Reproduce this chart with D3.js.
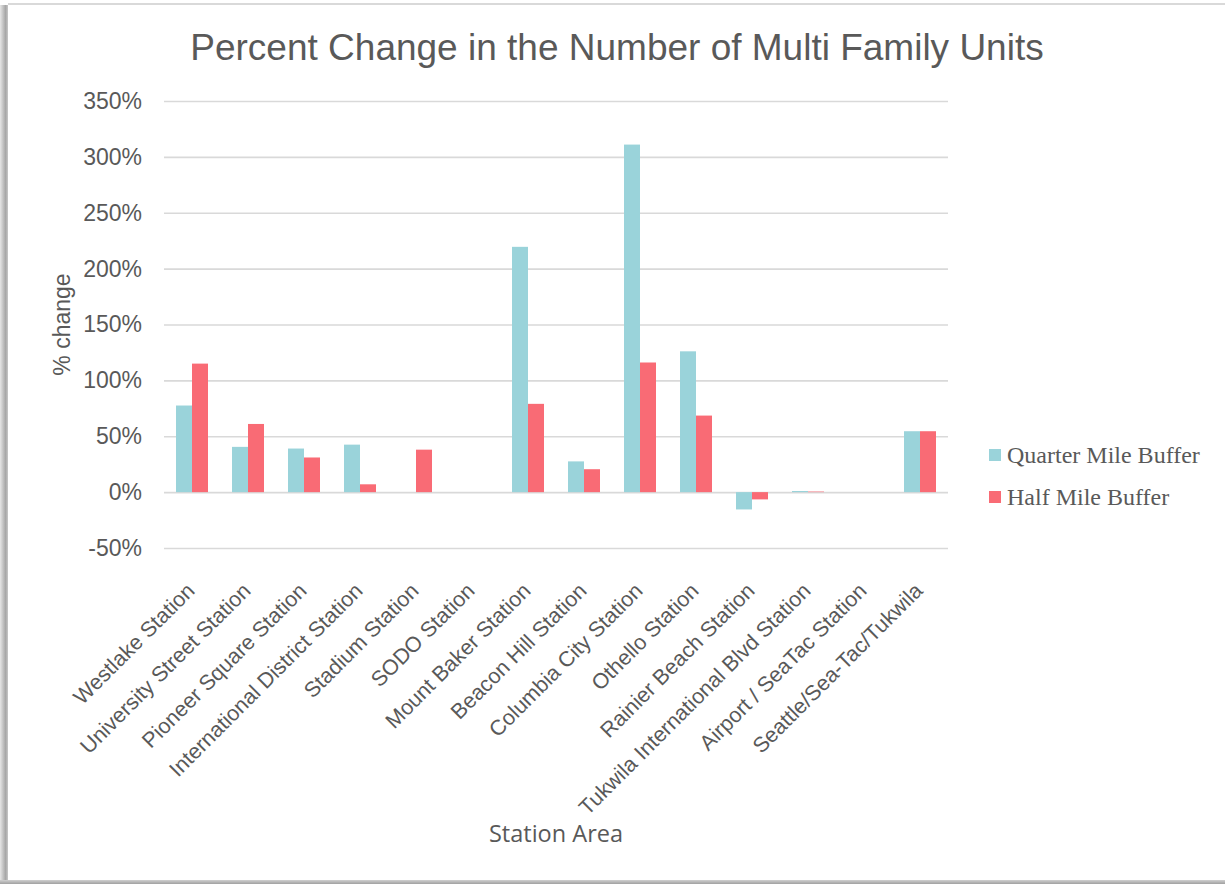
<!DOCTYPE html>
<html>
<head>
<meta charset="utf-8">
<script src="https://cdn.jsdelivr.net/npm/d3@7"></script>
<style>
  html, body { margin: 0; padding: 0; background: #ffffff; }
  svg { display: block; }
</style>
</head>
<body>
<svg id="chart" width="1225" height="884"></svg>
<script>
// Station areas along the line, in order
const stations = [
  "Westlake Station", "University Street Station", "Pioneer Square Station",
  "International District Station", "Stadium Station", "SODO Station",
  "Mount Baker Station", "Beacon Hill Station", "Columbia City Station",
  "Othello Station", "Rainier Beach Station", "Tukwila International Blvd Station",
  "Airport / SeaTac Station", "Seattle/Sea-Tac/Tukwila"
];

// Percent change in multi family units by buffer distance
const quarterMile = [77.5, 40.5, 39, 42.5, 0, 0, 219.5, 27.5, 311, 126, -15.5, 1, 0, 54.5];
const halfMile    = [115, 61, 31, 7, 38, 0, 79, 20.5, 116, 68.5, -6.5, 0.5, 0, 54.5];

const seriesNames = ["Quarter Mile Buffer", "Half Mile Buffer"];
const yTicks = [-50, 0, 50, 100, 150, 200, 250, 300, 350];

const colors = ["#9AD3DA", "#F96B75"];
const textColor = "#595959";

const svg = d3.select("#chart");
const W = 1225, H = 884;

// Frame with a soft shadow on the left and bottom edges
const defs = svg.append("defs");
const lg = defs.append("linearGradient").attr("id", "shadowLeft")
  .attr("x1", "0").attr("x2", "1").attr("y1", "0").attr("y2", "0");
lg.append("stop").attr("offset", "0").attr("stop-color", "#e6e6e6");
lg.append("stop").attr("offset", "0.7").attr("stop-color", "#a6a6a6");
lg.append("stop").attr("offset", "1").attr("stop-color", "#c8c8c8");
const bg = defs.append("linearGradient").attr("id", "shadowBottom")
  .attr("x1", "0").attr("x2", "0").attr("y1", "0").attr("y2", "1");
bg.append("stop").attr("offset", "0").attr("stop-color", "#d0d0d0");
bg.append("stop").attr("offset", "1").attr("stop-color", "#a0a0a0");

svg.append("rect").attr("x", 0).attr("y", 5).attr("width", 8).attr("height", H - 5)
  .attr("fill", "url(#shadowLeft)");
svg.append("rect").attr("x", 0).attr("y", H - 4).attr("width", W).attr("height", 4)
  .attr("fill", "url(#shadowBottom)");
svg.append("rect").attr("x", 8).attr("y", 3).attr("width", W - 8).attr("height", 2)
  .attr("fill", "#d9d9d9");

// Plot area
const plot = { left: 164, right: 948, top: 101, bottom: 548 };

const x = d3.scaleBand().domain(stations).range([plot.left, plot.right]).padding(0);
const bw = x.bandwidth();
const xSub = d3.scaleBand().domain(seriesNames)
  .range([bw * 12 / 56, bw * 44 / 56]).padding(0);
const y = d3.scaleLinear().domain([-50, 350]).range([plot.bottom, plot.top]);

// Gridlines and y tick labels
const yAxis = d3.axisLeft(y).tickValues(yTicks)
  .tickSize(-(plot.right - plot.left)).tickPadding(22)
  .tickFormat(d => d + "%");
const gy = svg.append("g").attr("transform", `translate(${plot.left},0)`).call(yAxis);
gy.select(".domain").remove();
gy.selectAll(".tick line").attr("stroke", "#d9d9d9").attr("stroke-width", 1.6);
gy.selectAll(".tick text")
  .attr("fill", textColor)
  .style("font-family", "'Liberation Sans', Arial, sans-serif")
  .style("font-size", "23px");

// Bars
const series = [quarterMile, halfMile];
series.forEach((vals, si) => {
  svg.append("g").selectAll("rect")
    .data(stations.map((s, i) => ({ s, v: vals[i] })))
    .join("rect")
    .attr("x", d => x(d.s) + xSub(seriesNames[si]))
    .attr("width", xSub.bandwidth())
    .attr("y", d => y(Math.max(0, d.v)))
    .attr("height", d => Math.abs(y(d.v) - y(0)))
    .attr("fill", colors[si]);
});

// Category labels, rotated
svg.append("g").selectAll("text")
  .data(stations)
  .join("text")
  .attr("transform", d => `translate(${x(d) + bw / 2 + 4},${592}) rotate(-45)`)
  .attr("text-anchor", "end")
  .attr("fill", textColor)
  .style("font-family", "'Liberation Sans', Arial, sans-serif")
  .style("font-size", "21.5px")
  .text(d => d);

// Title
svg.append("text")
  .attr("x", 617).attr("y", 60)
  .attr("text-anchor", "middle")
  .attr("fill", textColor)
  .style("font-family", "'Liberation Sans', Arial, sans-serif")
  .style("font-size", "37px")
  .text("Percent Change in the Number of Multi Family Units");

// Axis titles
svg.append("text")
  .attr("transform", `translate(70,${(plot.top + plot.bottom) / 2}) rotate(-90)`)
  .attr("text-anchor", "middle")
  .attr("fill", textColor)
  .style("font-family", "'Liberation Sans', Arial, sans-serif")
  .style("font-size", "23px")
  .text("% change");

svg.append("text")
  .attr("x", (plot.left + plot.right) / 2).attr("y", 842)
  .attr("text-anchor", "middle")
  .attr("fill", textColor)
  .style("font-family", "'Open Sans', sans-serif")
  .style("font-size", "23.5px")
  .text("Station Area");

// Legend
const legend = svg.append("g");
seriesNames.forEach((name, i) => {
  const ly = 455 + i * 42;
  legend.append("rect").attr("x", 989).attr("y", ly - 6).attr("width", 12).attr("height", 12)
    .attr("fill", colors[i]);
  legend.append("text").attr("x", 1007).attr("y", ly + 8)
    .attr("fill", textColor)
    .style("font-family", "'Liberation Serif', 'Times New Roman', serif")
    .style("font-size", "24px")
    .text(name);
});
</script>
</body>
</html>
